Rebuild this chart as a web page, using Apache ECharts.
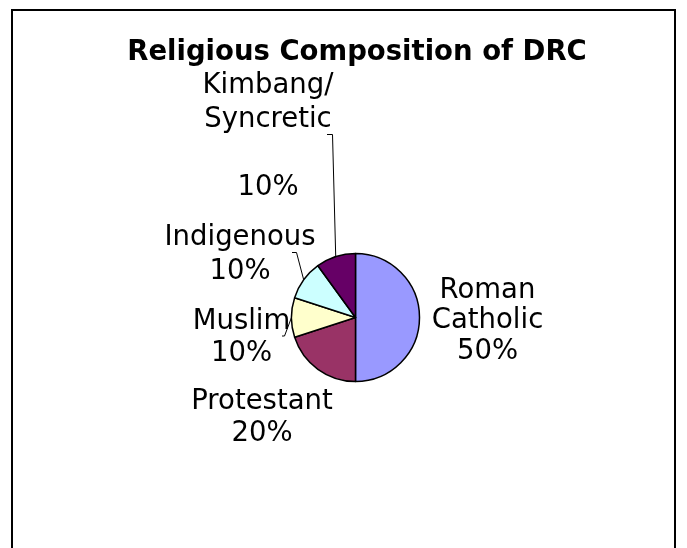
<!DOCTYPE html>
<html>
<head>
<meta charset="utf-8">
<title>Religious Composition of DRC</title>
<script src="https://cdn.jsdelivr.net/npm/echarts@6/dist/echarts.min.js"></script>
<style>
  html, body { margin: 0; padding: 0; background: #ffffff; }
  #chart { width: 687px; height: 548px; }
</style>
</head>
<body>
<div id="chart"></div>
<script>
// Religious groups (line breaks are part of the label text) and their shares in percent
const categories = ['Roman\nCatholic', 'Protestant', 'Muslim', 'Indigenous', 'Kimbang/\nSyncretic\n'];
const shares = [50, 20, 10, 10, 10];
const sliceColors = ['#9999FF', '#993366', '#FFFFCC', '#CCFFFF', '#660066'];

// Where each label block sits, its line spacing, and the bend points of its leader line
const labelSpots = [
  { x: 487.5, y: 321,   lh: 30.5, guide: null },
  { x: 262,   y: 418,   lh: 31.5, guide: null },
  { x: 241.5, y: 338,   lh: 31.5, guide: [[284.5, 336], [282, 336]] },
  { x: 240,   y: 255,   lh: 34.6, guide: [[296.5, 252.5], [292, 252.5]] },
  { x: 268,   y: 137,   lh: 34,   guide: [[332.5, 134.5], [327, 134.5]] }
];

const FONT = 'DejaVu Sans';

const chart = echarts.init(document.getElementById('chart'), null, { renderer: 'canvas' });

const pieData = categories.map(function (name, i) {
  return {
    name: name,
    value: shares[i],
    itemStyle: { color: sliceColors[i] },
    label: { lineHeight: labelSpots[i].lh },
    labelLine: { show: !!labelSpots[i].guide }
  };
});

chart.setOption({
  animation: false,
  backgroundColor: '#ffffff',
  title: {
    text: 'Religious Composition of DRC',
    left: 357,
    textAlign: 'center',
    top: 39,
    padding: 0,
    textStyle: {
      fontFamily: FONT,
      fontWeight: 'bold',
      fontSize: 27.5,
      color: '#000000'
    }
  },
  graphic: [{
    type: 'rect',
    silent: true,
    shape: { x: 12, y: 10, width: 663, height: 600 },
    style: { fill: 'none', stroke: '#000000', lineWidth: 2 }
  }],
  series: [{
    type: 'pie',
    center: [355.5, 317.5],
    radius: 64,
    startAngle: 90,
    clockwise: true,
    avoidLabelOverlap: false,
    silent: true,
    emphasis: { disabled: true },
    itemStyle: { borderColor: '#000000', borderWidth: 1.5 },
    label: {
      show: true,
      position: 'outside',
      formatter: '{b}\n{c}%',
      fontFamily: FONT,
      fontSize: 27.5,
      color: '#000000',
      align: 'center'
    },
    labelLine: {
      show: true,
      length: 10,
      length2: 10,
      lineStyle: { color: '#000000', width: 1 }
    },
    labelLayout: function (p) {
      const spot = labelSpots[p.dataIndex];
      const out = { x: spot.x, y: spot.y, align: 'center', verticalAlign: 'middle' };
      if (spot.guide && p.labelLinePoints) {
        out.labelLinePoints = [p.labelLinePoints[0]].concat(spot.guide);
      }
      return out;
    },
    data: pieData
  }]
});
</script>
</body>
</html>
